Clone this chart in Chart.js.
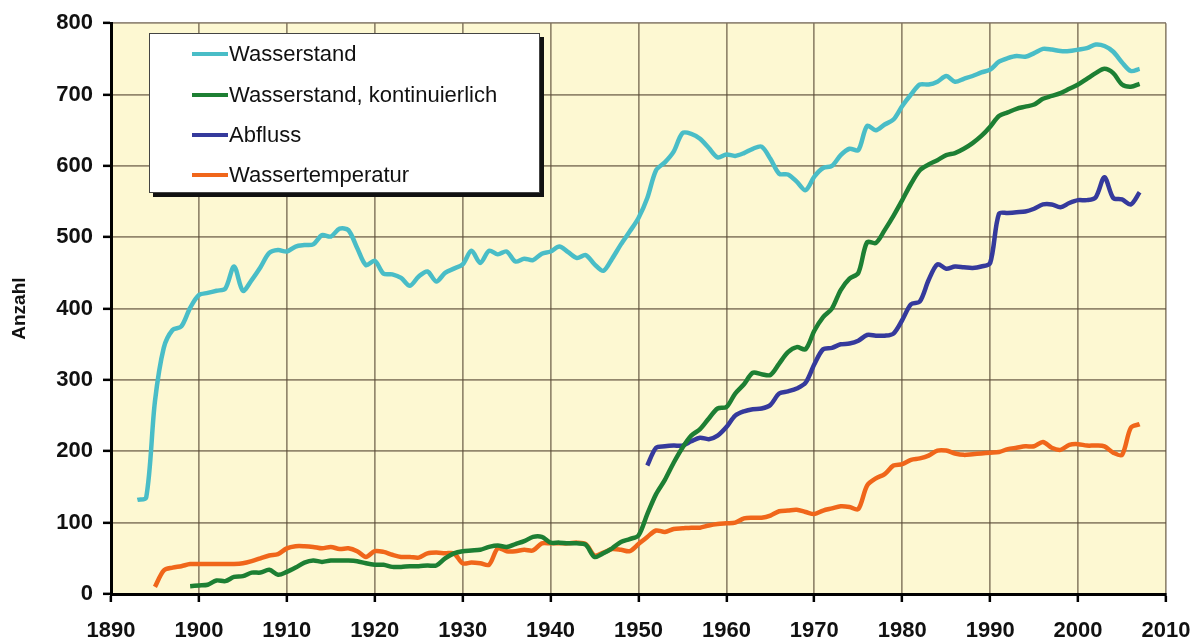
<!DOCTYPE html>
<html lang="de">
<head>
<meta charset="utf-8">
<title>Anzahl Messstellen</title>
<script src="https://cdn.jsdelivr.net/npm/chart.js@4.4.1/dist/chart.umd.min.js"></script>
<style>
  body { margin: 0; background: #fff; }
  #contenedor { position: relative; width: 1198px; height: 644px; }
  #leyenda {
    position: absolute; left: 149px; top: 33px; width: 389px; height: 158px;
    background: #fff; border: 1px solid #444; box-shadow: 4px 4px 0 #111;
    font-family: "Liberation Sans", Arial, sans-serif; font-size: 22px; color: #111;
  }
  .fila { position: absolute; left: 42px; height: 26px; display: flex; align-items: center; white-space: nowrap; }
  .muestra { width: 36px; height: 4px; margin-right: 1px; }
</style>
</head>
<body>
<div id="contenedor">
  <canvas id="grafico" width="1198" height="644"></canvas>
  <div id="leyenda"></div>
</div>
<script>
/* datos, un valor por año */
const inicioWasserstand = 1893;
const wasserstand = [
  132, 135, 270, 345, 370, 375, 401, 419, 422, 425,
  428, 459, 425, 440, 458, 478, 482, 480, 487, 489,
  490, 503, 501, 512, 510, 485, 461, 467, 449, 448,
  443, 432, 445, 452, 438, 450, 456, 462, 481, 464,
  481, 476, 480, 466, 470, 468, 477, 480, 487, 479,
  471, 475, 462, 453, 470, 490, 508, 527, 555, 594,
  605, 620, 646, 645, 638, 625, 612, 616, 614, 618,
  624, 627, 610, 589, 588, 578, 566, 585, 597, 600,
  615, 624, 622, 656, 650, 658, 665, 684, 700, 714,
  714, 718, 726, 718, 722, 726, 731, 735, 746, 751,
  754, 753, 758, 764, 763, 761, 761, 763, 765, 770,
  768, 760, 745, 733, 736
];

const inicioKontinuierlich = 1899;
const wasserstandKontinuierlich = [
  11, 12, 13, 19, 18, 24, 25, 30, 30, 34,
  27, 31, 37, 44, 47, 45, 47, 47, 47, 46,
  43, 41, 41, 38, 38, 39, 39, 40, 40, 50,
  57, 60, 61, 62, 66, 68, 66, 70, 74, 80,
  80, 72, 72, 71, 71, 69, 52, 57, 64, 73,
  77, 82, 112, 140, 160, 184, 205, 222, 231, 246,
  260, 262, 281, 294, 310, 308, 307, 323, 339, 346,
  343, 369, 388, 400, 426, 442, 450, 493, 492, 510,
  530, 552, 575, 594, 602, 608, 615, 618, 624, 632,
  642, 655, 670, 675, 680, 683, 686, 694, 698, 702,
  708, 714, 722, 730, 736, 730, 714, 711, 715
];

const inicioAbfluss = 1951;
const abfluss = [
  180, 205, 207, 208, 208, 214, 219, 217, 222, 234,
  250, 256, 259, 260, 265, 281, 284, 288, 296, 322,
  343, 345, 350, 351, 355, 363, 362, 362, 365, 384,
  406, 410, 440, 462, 456, 459, 458, 457, 459, 464,
  533, 534, 535, 536, 540, 546, 546, 542, 548, 552,
  552, 556, 584, 555, 553, 546, 563
];

const inicioTemperatur = 1895;
const wassertemperatur = [
  10, 33, 37, 39, 42, 42, 42, 42, 42, 42,
  43, 46, 50, 54, 56, 64, 67, 67, 66, 64,
  66, 63, 64, 60, 52, 60, 59, 55, 52, 52,
  51, 57, 58, 57, 57, 43, 44, 43, 41, 64,
  60, 60, 62, 61, 71, 71, 71, 71, 72, 70,
  54, 58, 63, 62, 60, 70, 80, 89, 87, 91,
  92, 93, 93, 96, 98, 99, 100, 106, 107, 107,
  110, 116, 117, 118, 115, 112, 117, 120, 123, 122,
  119, 152, 162, 168, 180, 182, 188, 190, 194, 201,
  201, 197, 195, 196, 197, 198, 199, 203, 205, 207,
  207, 213, 205, 202, 209, 210, 208, 208, 207, 198,
  195, 233, 238
];

const nombres = ["Wasserstand", "Wasserstand, kontinuierlich", "Abfluss", "Wassertemperatur"];
const colores = ["#49bdc7", "#1d7f33", "#353a9c", "#f0661a"];

const ticksX = [1890, 1900, 1910, 1920, 1930, 1940, 1950, 1960, 1970, 1980, 1990, 2000, 2010];
const ticksY = [0, 100, 200, 300, 400, 500, 600, 700, 800];

// convierte una serie anual en puntos {x, y}
function puntos(inicio, valores) {
  return valores.map((valor, i) => ({ x: inicio + i, y: valor }));
}

const series = [
  puntos(inicioWasserstand, wasserstand),
  puntos(inicioKontinuierlich, wasserstandKontinuierlich),
  puntos(inicioAbfluss, abfluss),
  puntos(inicioTemperatur, wassertemperatur)
];

const datasets = series.map((data, i) => ({
  label: nombres[i],
  data,
  borderColor: colores[i],
  borderWidth: 4.5,
  pointRadius: 0,
  tension: 0.3,
  fill: false
}));

// fondo amarillo del area del grafico
const fondoArea = {
  id: "fondoArea",
  beforeDraw(chart) {
    const { ctx, chartArea } = chart;
    ctx.save();
    ctx.fillStyle = "#fdf8d2";
    ctx.fillRect(chartArea.left, chartArea.top, chartArea.right - chartArea.left, chartArea.bottom - chartArea.top);
    ctx.restore();
  }
};

const colorGrid = "rgba(90, 75, 55, 0.65)";
const fuente = "'Liberation Sans', Arial, sans-serif";

const config = {
  type: "line",
  data: { datasets },
  plugins: [fondoArea],
  options: {
    responsive: false,
    animation: false,
    layout: { padding: { top: 22, right: 32, left: 0, bottom: 0 } },
    plugins: { legend: { display: false }, tooltip: { enabled: false } },
    scales: {
      x: {
        type: "linear",
        min: 1890,
        max: 2010,
        afterBuildTicks: (scale) => { scale.ticks = ticksX.map(v => ({ value: v })); },
        afterFit: (scale) => {
          // alto fijo y sin relleno extra por las etiquetas de los extremos
          scale.height = 50;
          scale.paddingLeft = 0;
          scale.paddingRight = 0;
        },
        ticks: {
          color: "#111",
          font: { family: fuente, size: 22, weight: "bold" },
          padding: 16,
          maxRotation: 0,
          callback: (v) => String(v)
        },
        grid: { color: colorGrid, lineWidth: 1.7, tickColor: "#000", tickLength: 8, tickWidth: 2.5 },
        border: { color: "#000", width: 3 }
      },
      y: {
        min: 0,
        max: 800,
        afterBuildTicks: (scale) => { scale.ticks = ticksY.map(v => ({ value: v })); },
        afterFit: (scale) => { scale.width = 111; },
        ticks: {
          color: "#111",
          font: { family: fuente, size: 22, weight: "bold" },
          padding: 10
        },
        grid: { color: colorGrid, lineWidth: 1.7, tickColor: "#000", tickLength: 8, tickWidth: 2.5 },
        border: { color: "#000", width: 3 },
        title: {
          display: true,
          text: "Anzahl",
          color: "#111",
          font: { family: fuente, size: 19, weight: "bold" },
          padding: { top: 8, bottom: 0 }
        }
      }
    }
  }
};

function cargarLeyenda() {
  const leyenda = document.getElementById("leyenda");
  const filasY = [7, 48, 88, 128];
  nombres.forEach((nombre, i) => {
    const fila = document.createElement("div");
    fila.className = "fila";
    fila.style.top = filasY[i] + "px";
    fila.innerHTML = `<span class="muestra" style="background:${colores[i]}"></span><span>${nombre}</span>`;
    leyenda.appendChild(fila);
  });
}

const grafico = new Chart(document.getElementById("grafico"), config);
cargarLeyenda();
</script>
</body>
</html>
